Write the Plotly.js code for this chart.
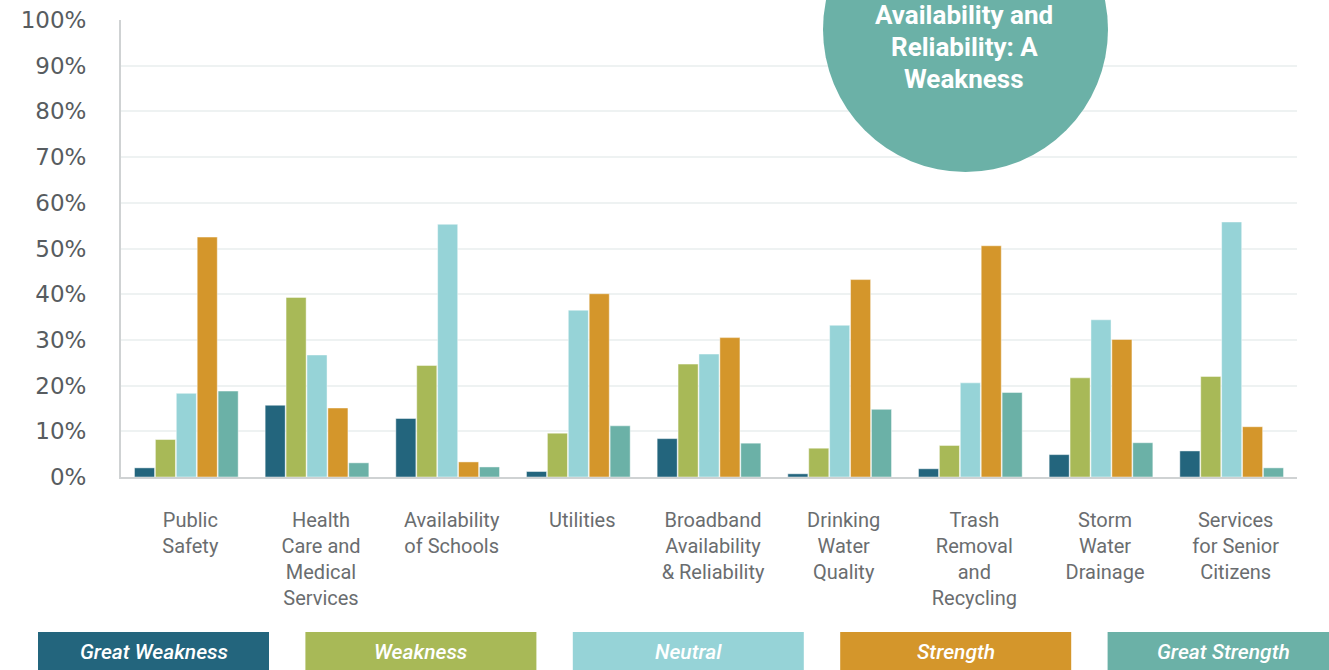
<!DOCTYPE html>
<html>
<head>
<meta charset="utf-8">
<script src="https://cdn.plot.ly/plotly-3.0.1.min.js"></script>
<style>
  html, body { margin: 0; padding: 0; background: #ffffff; }
  #chart { width: 1329px; height: 670px; }
</style>
</head>
<body>
<div id="chart"></div>
<script>
// ---------- DATA ----------
const categories = [
  "Public<br>Safety",
  "Health<br>Care and<br>Medical<br>Services",
  "Availability<br>of Schools",
  "Utilities",
  "Broadband<br>Availability<br>& Reliability",
  "Drinking<br>Water<br>Quality",
  "Trash<br>Removal<br>and<br>Recycling",
  "Storm<br>Water<br>Drainage",
  "Services<br>for Senior<br>Citizens"
];
const seriesNames = ["Great Weakness", "Weakness", "Neutral", "Strength", "Great Strength"];
const greatWeakness = [2.0, 15.7, 12.8, 1.2, 8.4, 0.7, 1.8, 4.9, 5.7];
const weakness      = [8.2, 39.3, 24.4, 9.6, 24.7, 6.3, 6.9, 21.7, 22.0];
const neutral       = [18.3, 26.7, 55.3, 36.5, 26.9, 33.2, 20.6, 34.4, 55.8];
const strength      = [52.5, 15.1, 3.3, 40.1, 30.5, 43.2, 50.6, 30.1, 11.0];
const greatStrength = [18.8, 3.1, 2.2, 11.2, 7.4, 14.8, 18.5, 7.5, 2.0];
const yTickVals = [0, 10, 20, 30, 40, 50, 60, 70, 80, 90, 100];
const calloutLines = ["Availability and", "Reliability: A", "Weakness"];

// ---------- STYLE ----------
const colors = ["#23657D", "#A8B957", "#96D3D7", "#D4962B", "#6BB1A7"];
const W = 1329, H = 670;
const M = { l: 121, r: 32, t: 20, b: 193 };
const plotW = W - M.l - M.r, plotH = H - M.t - M.b;
const px2x = p => (p - M.l) / plotW;
const py2y = p => (H - M.b - p) / plotH;

const allSeries = [greatWeakness, weakness, neutral, strength, greatStrength];
const traces = allSeries.map((vals, i) => ({
  type: "bar",
  name: seriesNames[i],
  x: categories,
  y: vals,
  marker: { color: colors[i], line: { color: "rgba(255,255,255,0.45)", width: 1 } },
  hoverinfo: "x+y+name"
}));

// legend boxes
const shapes = [];
const annotations = [];
const boxW = 231, pitch = 267.4, boxL0 = 38, boxTop = 632, boxBot = 672;
seriesNames.forEach((n, i) => {
  const x0 = boxL0 + i * pitch;
  shapes.push({
    type: "rect", xref: "paper", yref: "paper",
    x0: px2x(x0), x1: px2x(x0 + boxW), y0: py2y(boxBot), y1: py2y(boxTop),
    fillcolor: colors[i], line: { width: 0 }, layer: "above"
  });
  annotations.push({
    xref: "paper", yref: "paper",
    x: px2x(x0 + boxW / 2), y: py2y(652),
    xanchor: "center", yanchor: "middle",
    text: "<i>" + n + "</i>", showarrow: false,
    font: { family: "Roboto", size: 21, weight: 500, color: "#ffffff" }
  });
});

// callout circle
const cx = 965.5, cy = 29.5, r = 142.5;
shapes.push({
  type: "circle", xref: "paper", yref: "paper",
  x0: px2x(cx - r), x1: px2x(cx + r), y0: py2y(cy + r), y1: py2y(cy - r),
  fillcolor: "#6BB1A7", line: { width: 0 }, layer: "above"
});
calloutLines.forEach((t, i) => {
  annotations.push({
    xref: "paper", yref: "paper",
    x: px2x(964), y: py2y(15 + i * 32),
    xanchor: "center", yanchor: "middle",
    text: "<b>" + t + "</b>", showarrow: false,
    font: { family: "Roboto", size: 26, color: "#ffffff" }
  });
});

const layout = {
  width: W, height: H,
  margin: M,
  paper_bgcolor: "#ffffff",
  plot_bgcolor: "#ffffff",
  showlegend: false,
  barmode: "group",
  bargap: 0.2,
  bargroupgap: 0.04,
  xaxis: {
    type: "category",
    showline: true, linecolor: "#cfd2d3", linewidth: 2,
    showgrid: false, zeroline: false,
    ticks: "outside", ticklen: 24, tickcolor: "rgba(0,0,0,0)",
    ticklabelshift: 4,
    tickfont: { family: "Roboto", size: 20, color: "#6a6d6f" },
    tickangle: 0
  },
  yaxis: {
    range: [0, 100],
    tickvals: yTickVals,
    ticktext: yTickVals.map(v => v + "%"),
    showline: true, linecolor: "#cfd2d3", linewidth: 2,
    showgrid: true, gridcolor: "#eef2f2", gridwidth: 2,
    zeroline: false,
    ticks: "outside", ticklen: 28, tickcolor: "rgba(0,0,0,0)",
    tickfont: { family: "DejaVu Sans", size: 23, color: "#575c60" }
  },
  shapes: shapes,
  annotations: annotations
};

Plotly.newPlot("chart", traces, layout, { displayModeBar: false, staticPlot: true });
</script>
</body>
</html>
